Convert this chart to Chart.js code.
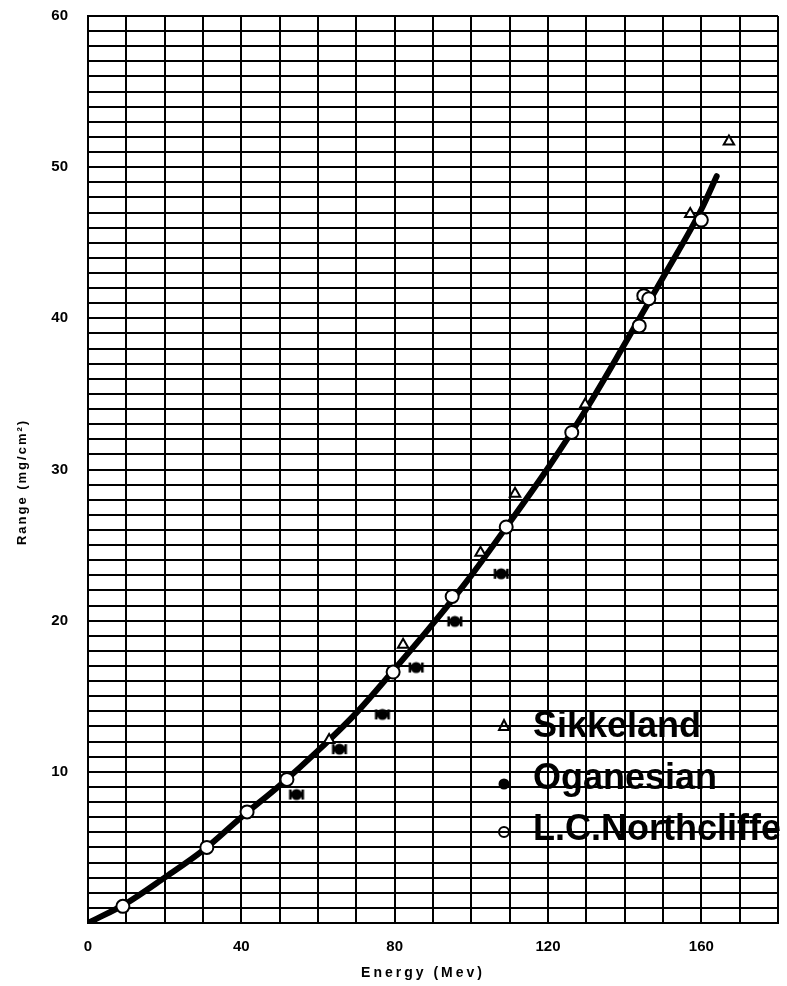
<!DOCTYPE html>
<html>
<head>
<meta charset="utf-8">
<title>Range vs Energy</title>
<script src="https://cdn.jsdelivr.net/npm/chart.js@4.4.1/dist/chart.umd.min.js"></script>
<style>
    html, body { margin: 0; padding: 0; background: #fff; }
    #wrap { width: 787px; height: 986px; position: relative; }
</style>
</head>
<body>
<div id="wrap"><canvas id="range-chart"></canvas></div>
<script>
// fitted range-energy curve
const curveEnergy = [0, 10, 20, 30, 40, 50, 60, 70, 80, 90, 100, 110, 120, 130, 140, 150, 160, 164];
const curveRange = [0, 1.3, 3.0, 4.8, 7.0, 9.1, 11.4, 13.9, 16.8, 19.8, 23.0, 26.5, 30.1, 34.0, 38.3, 42.7, 47.2, 49.4];

// measured points
const sikkelandEnergy = [62.9, 82.2, 102.4, 111.4, 129.7, 144.8, 157.1, 167.2];
const sikkelandRange = [12.1, 18.4, 24.5, 28.4, 34.3, 41.5, 46.9, 51.7];

const oganesianEnergy = [54.4, 65.6, 76.8, 85.6, 95.7, 107.8];
const oganesianRange = [8.5, 11.5, 13.8, 16.9, 19.95, 23.1];

const northcliffeEnergy = [9.1, 31.0, 41.5, 51.9, 79.6, 95.0, 109.1, 126.2, 143.8, 145.0, 146.3, 160.0];
const northcliffeRange = [1.1, 5.0, 7.35, 9.5, 16.6, 21.6, 26.2, 32.45, 39.5, 41.5, 41.3, 46.5];

const seriesNames = ['Sikkeland', 'Oganesian', 'L.C.Northcliffe'];
const xTickLabels = [0, 40, 80, 120, 160];
const yTickLabels = [10, 20, 30, 40, 50, 60];
const xTitle = 'Energy (Mev)';
const yTitle = 'Range (mg/cm\u00B2)';

const FONT = '"Liberation Sans", Arial, sans-serif';

let RangeChart = {

    setup: function () {
        this.draw();
    },

    toPoints: function (xs, ys) {
        return xs.map(function (x, i) {
            return {x: x, y: ys[i]};
        });
    },

    // filled dot with a short error bar, as plotted for Oganesian
    barredDot: function () {
        var c = document.createElement('canvas');
        c.width = 18;
        c.height = 14;
        var g = c.getContext('2d');
        g.fillStyle = '#000';
        g.beginPath();
        g.arc(9, 7, 5.5, 0, Math.PI * 2);
        g.fill();
        g.fillRect(3, 5, 12, 4);
        g.fillRect(1.5, 2, 2.5, 10);
        g.fillRect(14, 2, 2.5, 10);
        return c;
    },

    labelsPlugin: {
        id: 'labels',
        afterDraw: function (chart) {
            var ctx = chart.ctx;
            ctx.save();
            ctx.fillStyle = '#000';
            ctx.strokeStyle = '#000';

            // axis titles, letter spaced
            ctx.font = 'bold 14px ' + FONT;
            ctx.letterSpacing = '3px';
            ctx.textAlign = 'center';
            ctx.textBaseline = 'middle';
            ctx.fillText(xTitle, 423, 973);

            ctx.save();
            ctx.translate(22, 482);
            ctx.rotate(-Math.PI / 2);
            ctx.font = 'bold 13px ' + FONT;
            ctx.letterSpacing = '2px';
            ctx.fillText(yTitle, 0, 0);
            ctx.restore();

            // legend
            ctx.letterSpacing = '0px';
            ctx.font = 'bold 36px ' + FONT;
            ctx.textAlign = 'left';
            var mx = 504, tx = 533;
            var rows = [727, 779, 830];

            ctx.lineWidth = 2;
            ctx.beginPath();
            ctx.moveTo(mx, rows[0] - 7);
            ctx.lineTo(mx + 5, rows[0] + 3);
            ctx.lineTo(mx - 5, rows[0] + 3);
            ctx.closePath();
            ctx.stroke();

            ctx.beginPath();
            ctx.arc(mx, rows[1] + 5, 5.5, 0, Math.PI * 2);
            ctx.fill();

            ctx.beginPath();
            ctx.arc(mx, rows[2] + 2, 5, 0, Math.PI * 2);
            ctx.stroke();

            seriesNames.forEach(function (name, i) {
                ctx.fillText(name, tx, rows[i]);
            });
            ctx.restore();
        }
    },

    draw: function () {
        var ctx = document.getElementById('range-chart');
        var tickFont = {family: FONT, size: 15, weight: 'bold'};

        new Chart(ctx, {
            type: 'scatter',
            data: {
                datasets: [
                    {
                        label: seriesNames[0],
                        data: this.toPoints(sikkelandEnergy, sikkelandRange),
                        pointStyle: 'triangle',
                        pointRadius: 6,
                        borderWidth: 2,
                        borderColor: '#000',
                        backgroundColor: '#fff',
                        order: 1
                    },
                    {
                        label: seriesNames[1],
                        data: this.toPoints(oganesianEnergy, oganesianRange),
                        pointStyle: this.barredDot(),
                        borderColor: '#000',
                        backgroundColor: '#000',
                        order: 2
                    },
                    {
                        label: seriesNames[2],
                        data: this.toPoints(northcliffeEnergy, northcliffeRange),
                        pointStyle: 'circle',
                        pointRadius: 6.5,
                        borderWidth: 2,
                        borderColor: '#000',
                        backgroundColor: '#fff',
                        order: 0
                    },
                    {
                        label: 'curve',
                        data: this.toPoints(curveEnergy, curveRange),
                        showLine: true,
                        pointRadius: 0,
                        borderColor: '#000',
                        borderWidth: 6,
                        borderCapStyle: 'round',
                        cubicInterpolationMode: 'monotone',
                        order: 5
                    }
                ]
            },
            options: {
                responsive: true,
                maintainAspectRatio: false,
                animation: false,
                layout: {
                    padding: {top: 16, right: 9, left: 0, bottom: 0}
                },
                plugins: {
                    legend: {display: false},
                    tooltip: {enabled: false}
                },
                scales: {
                    x: {
                        type: 'linear',
                        min: 0,
                        max: 180,
                        border: {display: true, color: '#000', width: 2},
                        grid: {color: '#000', lineWidth: 2, drawTicks: false},
                        ticks: {
                            stepSize: 10,
                            autoSkip: false,
                            maxRotation: 0,
                            padding: 15,
                            color: '#000',
                            font: tickFont,
                            callback: function (value) {
                                return xTickLabels.indexOf(value) > -1 ? value : '';
                            }
                        },
                        afterFit: function (scale) {
                            scale.height = 63;
                            // labels may overhang; keep the plot box fixed
                            scale.paddingLeft = 0;
                            scale.paddingRight = 0;
                        }
                    },
                    y: {
                        type: 'linear',
                        min: 0,
                        max: 60,
                        border: {display: true, color: '#000', width: 2},
                        grid: {color: '#000', lineWidth: 2, drawTicks: false},
                        ticks: {
                            stepSize: 1,
                            autoSkip: false,
                            padding: 20,
                            color: '#000',
                            font: tickFont,
                            callback: function (value) {
                                return yTickLabels.indexOf(value) > -1 ? value : '';
                            }
                        },
                        afterFit: function (scale) {
                            scale.width = 88;
                            scale.paddingTop = 0;
                            scale.paddingBottom = 0;
                        }
                    }
                }
            },
            plugins: [this.labelsPlugin]
        });
    }
};

RangeChart.setup();
</script>
</body>
</html>
